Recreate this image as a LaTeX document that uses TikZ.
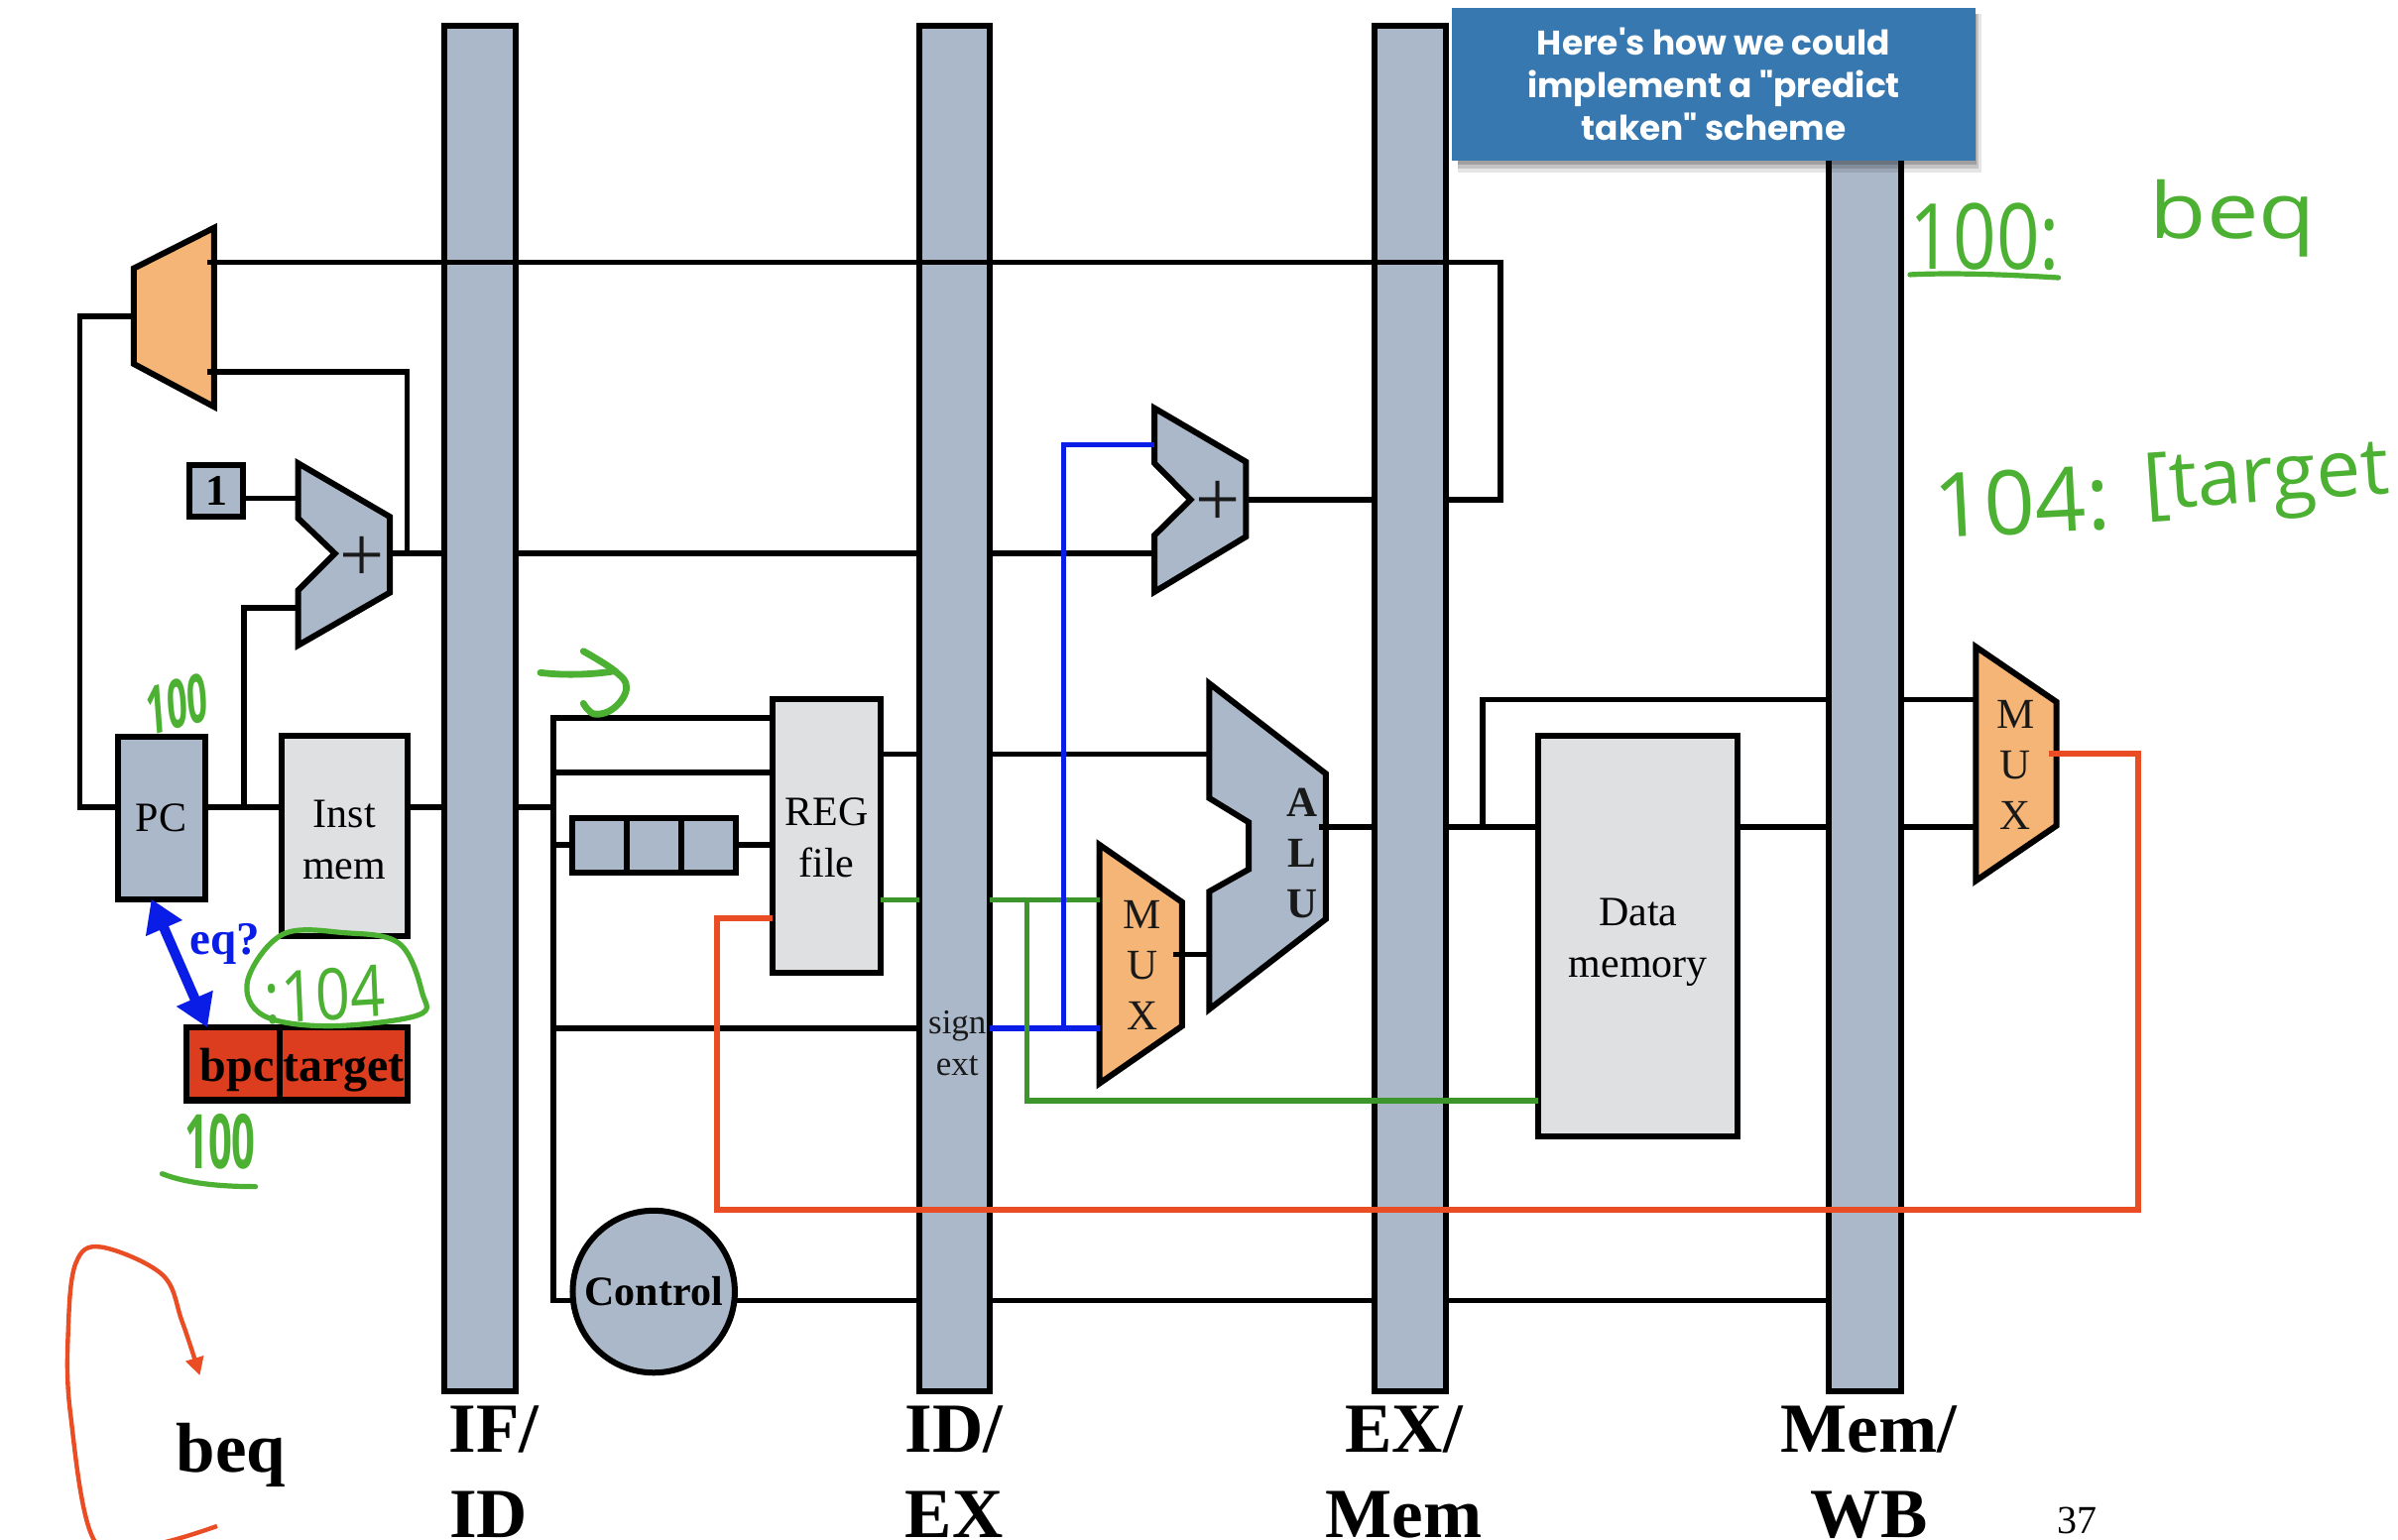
\documentclass[tikz,border=0pt]{standalone}
\usepackage{fontspec}
\setmainfont{Liberation Serif}
\newfontfamily\handfont{Open Sans}
\newfontfamily\boxfont{Poppins}
\usetikzlibrary{arrows.meta}
\definecolor{barc}{HTML}{ABB8C9}
\definecolor{orangec}{HTML}{F4B577}
\definecolor{grayc}{HTML}{DFE0E1}
\definecolor{redc}{HTML}{DC3D1F}
\definecolor{greenw}{HTML}{3C962B}
\definecolor{bluew}{HTML}{0A1DE6}
\definecolor{orangew}{HTML}{EA4C23}
\definecolor{handg}{HTML}{4CB033}
\definecolor{boxblue}{HTML}{3778B1}
\tikzset{
  sz/.style 2 args={minimum width=#1*0.771pt,minimum height=#2*0.771pt},
  block/.style={draw=black,line width=3pt,inner sep=0pt,outer sep=0pt,align=center,font=\fontsize{21}{26}\selectfont},
  barbox/.style={block,fill=barc},
  graybox/.style={block,fill=grayc},
  redbox/.style={block,fill=redc,line width=3.2pt,font=\fontsize{24}{26}\selectfont\bfseries,text height=20pt,text depth=2.6pt},
  polyb/.style={draw=black,line width=3pt,fill=barc},
  polyo/.style={draw=black,line width=3pt,fill=orangec},
  wire/.style={draw=black,line width=2.8pt},
  gwire/.style={draw=greenw,line width=2.8pt},
  bwire/.style={draw=bluew,line width=2.8pt},
  owire/.style={draw=orangew,line width=2.8pt},
  lbl/.style={inner sep=0pt,outer sep=0pt,align=center,text=black!90},
  stage/.style={inner sep=0pt,outer sep=0pt,anchor=base,font=\fontsize{35.5}{36}\selectfont\bfseries},
  hand/.style={inner sep=0pt,outer sep=0pt,anchor=base,text=handg,transform shape},
  scribble/.style={draw=handg,line width=2.6pt,line cap=round,line join=round},
}
\begin{document}
\begin{tikzpicture}[x=0.771pt,y=-0.771pt]
\clip (0,0) rectangle (1568.09,1006.49);
\fill[white] (0,0) rectangle (1568.09,1006.49);
% pipeline registers
\node[barbox,sz={47}{893}] (b1) at (314,463.5) {};
\node[barbox,sz={46}{893}] (b2) at (624,463.5) {};
\node[barbox,sz={47}{893}] (b3) at (922,463.5) {};
\node[barbox,sz={47}{893}] (b4) at (1219.5,463.5) {};
% blocks
\node[barbox,sz={57}{106},font=\fontsize{21}{26}\selectfont] (pc) at (105.5,535) {PC};
\node[graybox,sz={82.5}{130.5}] (im) at (225.2,546.7) {\rule{0pt}{17.5pt}Inst\\mem};
\node[barbox,sz={35}{34},font=\fontsize{22}{26}\selectfont\bfseries] (one) at (141.5,321) {1};
\node[graybox,sz={71}{179}] (reg) at (540.5,547) {\rule{0pt}{15.5pt}REG\\file};
\node[graybox,sz={130.5}{261.5}] (dm) at (1071.2,612.2) {\rule{0pt}{20pt}Data\\memory};
\node[barbox,sz={35.6}{36}] (c1) at (391.8,553) {};
\node[barbox,sz={35.6}{36}] (c2) at (427.5,553) {};
\node[barbox,sz={35.6}{36}] (c3) at (463.2,553) {};
\node[barbox,circle,sz={106}{106},font=\fontsize{21}{26}\selectfont\bfseries] (ctrl) at (427.5,844.7) {Control};
\node[redbox,sz={61}{47.5}] (bpc) at (152.5,695.7) {\hspace{4pt}bpc};
\node[redbox,sz={83.5}{47.5}] (tgt) at (224.8,695.7) {target};
% trapezoids
\draw[polyo] (87.5,175.5) -- (140,149) -- (140,266) -- (87.5,238) -- cycle;
\draw[polyb] (195,303) -- (255,338) -- (255,387.5) -- (195,422) -- (195,386) -- (219,362) -- (195,339) -- cycle;
\draw[polyb] (755,267) -- (814.7,302) -- (814.7,351) -- (755,387) -- (755,350) -- (778.5,326.8) -- (755,303) -- cycle;
\draw[polyo] (719,552.5) -- (773,590) -- (773,671) -- (719,708.5) -- cycle;
\draw[polyb] (790.8,447) -- (867,506) -- (867,601) -- (790.8,660) -- (790.8,583) -- (816.6,568.5) -- (816.6,537.8) -- (790.8,522) -- cycle;
\draw[polyo] (1292,423) -- (1344.7,459) -- (1344.7,540) -- (1292,576) -- cycle;
\node[lbl,font=\fontsize{40}{40}\selectfont] (plusa) at (236.7,365.5) {+};
\node[lbl,font=\fontsize{40}{40}\selectfont] (plusb) at (796.5,329.5) {+};
\node[lbl,font=\fontsize{21.5}{25.5}\selectfont] (muxm) at (747,631) {M\\U\\X};
\node[lbl,font=\fontsize{21.5}{25.5}\selectfont] (muxr) at (1318,500.5) {M\\U\\X};
\node[lbl,font=\fontsize{21.5}{25.5}\selectfont\bfseries] (alulab) at (851.5,558) {A\\L\\U};
\node[lbl,font=\fontsize{17.5}{21}\selectfont] (sext) at (626,682.5) {sign\\ext};
% ports
\coordinate (bus) at (362,0);
\coordinate (umuxA) at (135.6,171.4);
\coordinate (umuxB) at (135.6,243);
\coordinate (umuxOut) at (87.5,207);
\coordinate (fbTop) at (981.3,171.4);
\coordinate (fbBot) at (981.3,326.8);
\coordinate (a1out) at (255,362);
\coordinate (jA) at (266.3,362);
\coordinate (a1inA) at (195,326);
\coordinate (a1inB) at (195,397.7);
\coordinate (jB) at (159.4,528);
\coordinate (lft) at (52.2,207);
\coordinate (a2inA) at (755,290.8);
\coordinate (a2inB) at (755,362);
\coordinate (a2out) at (814.7,326.8);
\coordinate (aluA) at (790.8,493.3);
\coordinate (aluB) at (790.8,624.3);
\coordinate (aluOut) at (862.5,541);
\coordinate (mmuxOut) at (767,624.3);
\coordinate (mmuxA) at (719,588.6);
\coordinate (mmuxB) at (719,672.3);
\coordinate (jC) at (969.6,541);
\coordinate (rmuxA) at (1292,457.5);
\coordinate (rmuxB) at (1292,541);
\coordinate (rmuxOut) at (1340,493);
\coordinate (orA) at (1398,493);
\coordinate (orB) at (1398,791);
\coordinate (orC) at (468.7,791);
\coordinate (orD) at (468.7,600.5);
\coordinate (jG) at (671.6,588.6);
\coordinate (jBl) at (695.6,672.3);
% black connectors
\draw[wire] (umuxA) -- (fbTop) -- (fbBot) -- (b3.east |- fbBot);
\draw[wire] (a2out) -- (b3.west |- a2out);
\draw[wire] (umuxB) -| (jA);
\draw[wire] (a1out) -- (b1.west |- a1out);
\draw[wire] (b1.east |- a1out) -- (b2.west |- a1out);
\draw[wire] (b2.east |- a1out) -- (a2inB);
\draw[wire] (one.east |- a1inA) -- (a1inA);
\draw[wire] (pc.east |- jB) -- (im.west |- jB);
\draw[wire] (jB) |- (a1inB);
\draw[wire] (pc.west |- jB) -| (lft) -- (umuxOut);
\draw[wire] (im.east |- jB) -- (b1.west |- jB);
\draw[wire] (b1.east |- jB) -- (bus |- jB);
\draw[wire] (reg.west |- 0,469.5) -- (bus |- 0,469.5) -- (bus |- 0,850.5) -- (ctrl.west |- 0,850.5);
\draw[wire] (bus |- 0,505) -- (reg.west |- 0,505);
\draw[wire] (bus |- 0,552.6) -- (c1.west |- 0,552.6);
\draw[wire] (c3.east |- 0,552.6) -- (reg.west |- 0,552.6);
\draw[wire] (bus |- 0,672.5) -- (b2.west |- 0,672.5);
\draw[wire] (reg.east |- aluA) -- (b2.west |- aluA);
\draw[wire] (b2.east |- aluA) -- (aluA);
\draw[wire] (mmuxOut) -- (aluB);
\draw[wire] (aluOut) -- (b3.west |- aluOut);
\draw[wire] (b3.east |- aluOut) -- (dm.west |- aluOut);
\draw[wire] (jC) |- (b4.west |- rmuxA);
\draw[wire] (dm.east |- rmuxB) -- (b4.west |- rmuxB);
\draw[wire] (b4.east |- rmuxA) -- (rmuxA);
\draw[wire] (b4.east |- rmuxB) -- (rmuxB);
\draw[wire] (ctrl.east |- 0,850.5) -- (b2.west |- 0,850.5);
\draw[wire] (b2.east |- 0,850.5) -- (b3.west |- 0,850.5);
\draw[wire] (b3.east |- 0,850.5) -- (b4.west |- 0,850.5);
% coloured connectors
\draw[gwire] (reg.east |- mmuxA) -- (b2.west |- mmuxA);
\draw[gwire] (b2.east |- mmuxA) -- (mmuxA);
\draw[bwire] (b2.east |- mmuxB) -- (mmuxB);
\draw[bwire] (jBl) |- (a2inA);
\draw[gwire] (jG) |- (dm.west |- 0,719.8);
\draw[owire] (rmuxOut) -- (orA) -- (orB) -- (orC) -- (orD) -- (reg.west |- orD);
% stage names
\node[stage] (s1a) at (323,950) {IF/};
\node[stage] (s1b) at (319.5,1005.5) {ID};
\node[stage] (s2a) at (624,950) {ID/};
\node[stage] (s2b) at (624,1005.5) {EX};
\node[stage] (s3a) at (918,950) {EX/};
\node[stage] (s3b) at (918,1005.5) {Mem};
\node[stage] (s4a) at (1222,950) {Mem/};
\node[stage] (s4b) at (1222,1005.5) {WB};
\node[inner sep=0pt,anchor=base,font=\fontsize{20}{24}\selectfont] (pagenum) at (1358,1003) {37};
\node[inner sep=0pt,anchor=base,font=\fontsize{35.5}{36}\selectfont\bfseries] (beq) at (151,963) {beq};
\node[inner sep=0pt,anchor=base west,text=bluew,font=\fontsize{23.5}{26}\selectfont\bfseries] (eq) at (124,624) {eq?};
% double arrow
\draw[draw=bluew,fill=bluew,line width=5pt,{Triangle[length=16pt,width=19pt]}-{Triangle[length=16pt,width=19pt]}] (99,0 |- pc.south) -- (135.6,0 |- bpc.north);
% handwritten notes
\node[hand,xscale=.53,rotate=8,font=\handfont\bfseries\fontsize{34}{34}\selectfont] (h1) at (117,476) {100};
\node[hand,xscale=.55,font=\handfont\bfseries\fontsize{38}{38}\selectfont] (h2) at (144,764) {100};
\node[hand,xscale=.85,rotate=3,font=\handfont\fontsize{36}{36}\selectfont] (h3) at (213,667) {:104};
\node[hand,xscale=.83,font=\handfont\fontsize{46}{46}\selectfont] (h4) at (1298,176) {100:};
\node[hand,xscale=1.2,font=\handfont\fontsize{39}{39}\selectfont] (h5) at (1460,156) {beq};
\node[hand,rotate=3,font=\handfont\fontsize{45}{45}\selectfont] (h6) at (1323,349) {104:};
\node[hand,rotate=4,font=\handfont\fontsize{40}{40}\selectfont] (h7) at (1483,328) {[target};
\draw[scribble] plot[smooth cycle,tension=.6] coordinates {(162,641) (172,664) (215,671) (273,664) (276,649) (261,617) (225,610) (185,611)};
\draw[scribble] (106,767.6) .. controls (125,775) and (150,776) .. (167,776);
\draw[scribble] (1249,179.6) .. controls (1280,178) and (1320,180) .. (1346,181.6);
\draw[scribble,line width=3.4pt] (353.4,439.9) .. controls (370,442) and (390,441) .. (402,438.8);
\draw[scribble,line width=3.4pt] plot[smooth,tension=.7] coordinates {(381.5,425.9) (402,438.8) (409.6,449.6) (402,462.6) (389,467) (381.5,460)};
\draw[draw=orangew,line width=2.2pt,-{Triangle[length=9pt,width=9pt]}] plot[smooth,tension=.6] coordinates {(142,998) (100,1010) (62,1008) (46,924) (44.7,867.5) (49.6,826) (66,815.5) (106,833.5) (119,864) (130.7,899.5)};
% callout
\fill[black,opacity=.10] (953,9) rectangle (1296,113);
\fill[black,opacity=.14] (953,9) rectangle (1294,110);
\fill[black,opacity=.18] (953,9) rectangle (1292.5,107.5);
\node[fill=boxblue,text=white,inner sep=0pt,outer sep=0pt,sz={342}{100},align=center,font=\boxfont\bfseries\fontsize{17.2}{21.6}\selectfont] (callout) at (1120.6,55) {Here's how we could\\implement a "predict\\taken" scheme};
\end{tikzpicture}
\end{document}
